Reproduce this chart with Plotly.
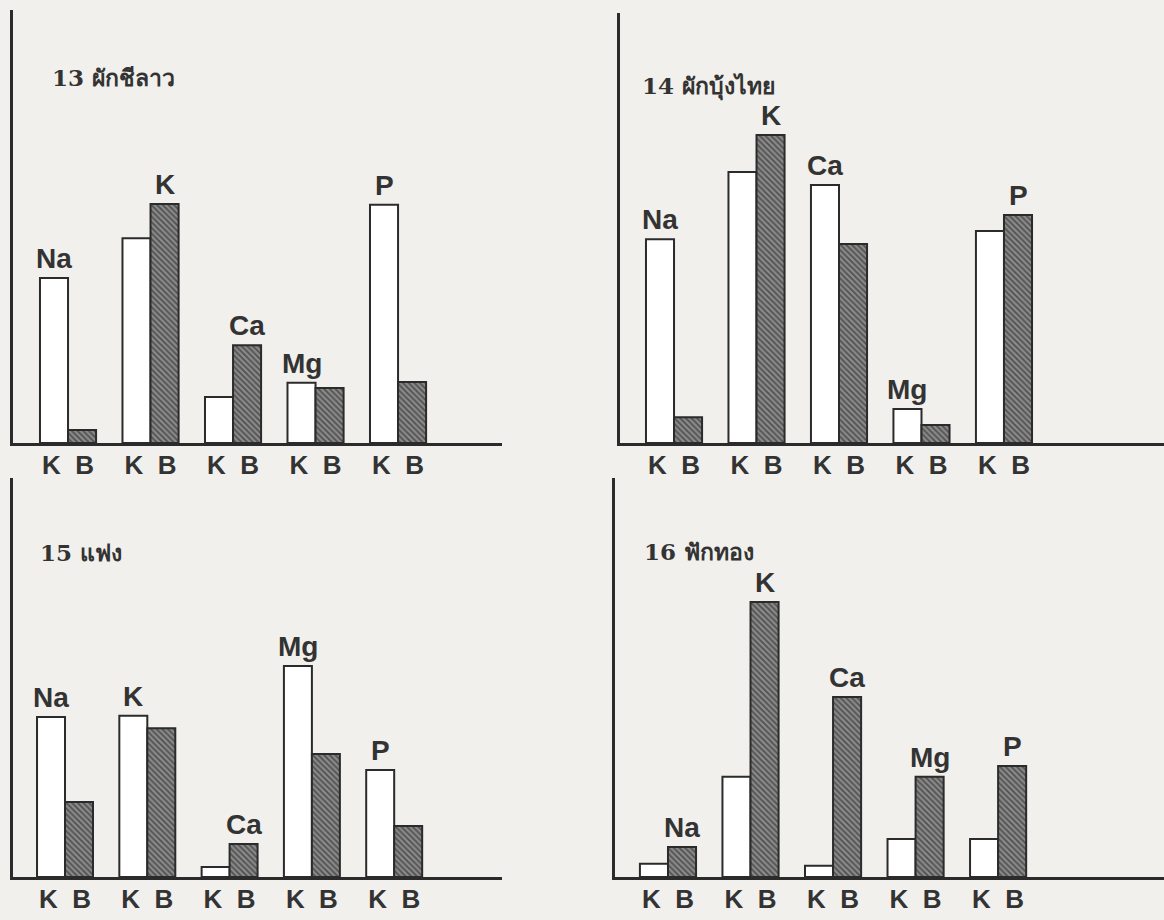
import plotly.graph_objects as go

# ---------------- data (relative bar heights, 0-100 of axis height) ----------
elements = ["Na", "K", "Ca", "Mg", "P"]
tick_labels = ["K  B", "K  B", "K  B", "K  B", "K  B"]
titles = ["13 ผักชีลาว", "14 ผักบุ้งไทย", "15 แฟง", "16 ฟักทอง"]

k_13 = [38.1, 47.3, 10.6, 13.9, 55.0]
b_13 = [3.0, 55.2, 22.6, 12.7, 14.1]

k_14 = [47.4, 63.0, 60.0, 7.9, 49.3]
b_14 = [6.0, 71.6, 46.3, 4.2, 53.0]

k_15 = [40.1, 40.4, 2.5, 52.9, 26.8]
b_15 = [18.8, 37.3, 8.3, 30.8, 12.8]

k_16 = [3.3, 25.1, 2.8, 9.5, 9.5]
b_16 = [7.5, 68.9, 45.1, 25.1, 27.8]

k_series = [k_13, k_14, k_15, k_16]
b_series = [b_13, b_14, b_15, b_16]

# ---------------- layout geometry ----------------
W, H = 1164, 920
# (left px, right px, top px, baseline px, xrange)
panels = [
    (13, 502, 10, 443, [-0.667, 5.26]),
    (620, 1164, 13, 443, [-0.655, 5.94]),
    (13, 502, 478, 877, [-0.632, 5.31]),
    (615, 1164, 478, 877, [-0.642, 6.01]),
]
title_pos = [(50, 78), (640, 87), (38, 552), (642, 551)]

INK = "#2b2b2b"
BG = "#f1f0ed"
SANS = "Liberation Sans, Arial, sans-serif"

fig = go.Figure()
xpos = list(range(len(elements)))
annotations = []
layout_axes = {}

for i in range(4):
    left, right, top, base, xr = panels[i]
    xa = "x" if i == 0 else f"x{i+1}"
    ya = "y" if i == 0 else f"y{i+1}"
    kvals = k_series[i]
    bvals = b_series[i]
    fig.add_trace(go.Bar(
        x=xpos, y=kvals, name="K", xaxis=xa, yaxis=ya, showlegend=False,
        marker=dict(color="white", line=dict(color=INK, width=2)),
        offsetgroup="K",
    ))
    fig.add_trace(go.Bar(
        x=xpos, y=bvals, name="B", xaxis=xa, yaxis=ya, showlegend=False,
        marker=dict(color="#8c8c8c", line=dict(color=INK, width=2),
                    pattern=dict(shape="\\", size=4, solidity=0.45,
                                 fgcolor="#161616", bgcolor="#8a8a8a",
                                 fillmode="overlay")),
        offsetgroup="B",
    ))
    xkey = "xaxis" if i == 0 else f"xaxis{i+1}"
    ykey = "yaxis" if i == 0 else f"yaxis{i+1}"
    layout_axes[xkey] = dict(
        domain=[left / W, right / W], anchor=ya, range=xr,
        tickmode="array", tickvals=xpos, ticktext=tick_labels,
        showline=True, linecolor=INK, linewidth=3, showgrid=False, zeroline=False,
        ticks="", ticklen=0, ticklabelstandoff=-3,
        tickfont=dict(family=SANS, size=26, color="#333", weight="bold"),
        fixedrange=True,
    )
    layout_axes[ykey] = dict(
        domain=[1 - base / H, 1 - top / H], anchor=xa, range=[0, 100],
        showline=True, linecolor=INK, linewidth=2.5, showgrid=False, zeroline=False,
        showticklabels=False, ticks="", fixedrange=True,
    )
    # element labels, centred over the taller bar of each pair
    for j, el in enumerate(elements):
        taller_k = kvals[j] >= bvals[j]
        annotations.append(dict(
            x=xpos[j] + (-0.17 if taller_k else 0.17),
            y=max(kvals[j], bvals[j]),
            xref=xa, yref=ya, text=f"<b>{el}</b>", showarrow=False,
            xanchor="center", yanchor="bottom", yshift=2,
            font=dict(family=SANS, size=28, color="#333"),
        ))
    tx, ty = title_pos[i]
    annotations.append(dict(
        x=tx / W, y=1 - ty / H, xref="paper", yref="paper",
        text=f"<b>{titles[i]}</b>", showarrow=False,
        xanchor="left", yanchor="middle",
        font=dict(family="DejaVu Serif, Noto Sans, sans-serif", size=23, color="#333"),
    ))

fig.update_layout(
    width=W, height=H,
    margin=dict(l=0, r=0, t=0, b=0),
    paper_bgcolor=BG, plot_bgcolor="rgba(0,0,0,0)",
    barmode="group", bargap=0.32, bargroupgap=0,
    annotations=annotations,
    showlegend=False,
    **layout_axes,
)

fig.write_html(
    "out.html",
    config={"displayModeBar": False},
    post_script="document.body.style.margin='0';document.body.style.background='" + BG + "';",
)
